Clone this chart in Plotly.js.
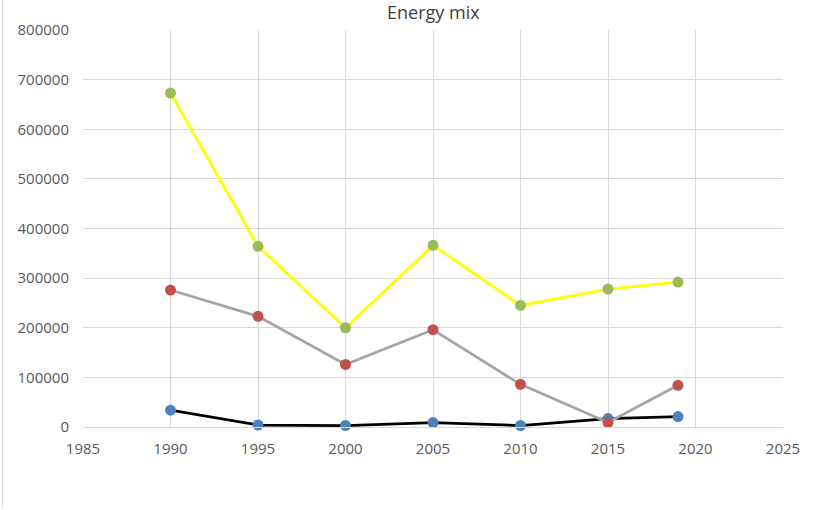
<!DOCTYPE html>
<html>
<head>
<meta charset="utf-8">
<script src="https://cdn.plot.ly/plotly-3.0.1.min.js"></script>
<style>
html,body{margin:0;padding:0;background:#fff;}
#wrap{position:absolute;left:0;top:0;width:825px;height:510px;overflow:hidden;}
#border{position:absolute;left:2px;top:-2px;width:840px;height:510px;border-left:1px solid #d9d9d9;pointer-events:none;}
#chart{position:absolute;left:0;top:0;width:825px;height:510px;}
</style>
</head>
<body>
<div id="wrap"><div id="chart"></div><div id="border"></div></div>
<script>
const years = [1990, 1995, 2000, 2005, 2010, 2015, 2019];
const seriesTop = [673000, 364000, 200000, 366000, 245000, 278000, 292000];
const seriesMid = [276000, 223000, 126000, 196000, 86000, 9000, 84000];
const seriesLow = [34000, 4000, 3000, 9000, 3000, 17000, 21000];
const xTicks = [1985, 1990, 1995, 2000, 2005, 2010, 2015, 2020, 2025];
const yTicks = [0, 100000, 200000, 300000, 400000, 500000, 600000, 700000, 800000];
const chartTitle = 'Energy mix';

function tr(y, lineColor, markerColor){
  return {x: years, y: y, type:'scatter', mode:'lines+markers',
    line:{color:lineColor, width:2.75},
    marker:{color:markerColor, size:11},
    cliponaxis:false, hoverinfo:'none'};
}
const data = [
  tr(seriesLow, '#000000', '#4f81bd'),
  tr(seriesMid, '#a5a5a5', '#c0504d'),
  tr(seriesTop, '#ffff00', '#9bbb59')
];
const fam = 'Open Sans, Liberation Sans, Arial, sans-serif';
const axisFont = {family:fam, size:15, color:'#595959'};
const layout = {
  width:825, height:510,
  margin:{l:83, r:42, t:30, b:83},
  paper_bgcolor:'#ffffff', plot_bgcolor:'#ffffff',
  showlegend:false,
  annotations:[{text:chartTitle, xref:'paper', yref:'paper', x:0.5, y:1,
    xanchor:'center', yanchor:'bottom', yshift:4, showarrow:false,
    font:{family:fam, size:18, color:'#404040'}}],
  xaxis:{range:[1985,2025], tickvals:xTicks, ticktext:xTicks.map(String),
    showgrid:true, gridcolor:'#d9d9d9', gridwidth:1,
    showline:true, linecolor:'#d9d9d9', linewidth:1, zeroline:false,
    ticks:'', tickfont:axisFont, ticklabelstandoff:8},
  yaxis:{range:[0,800000], tickvals:yTicks, ticktext:yTicks.map(String),
    showgrid:true, gridcolor:'#d9d9d9', gridwidth:1,
    showline:false, zeroline:false,
    ticks:'', tickfont:axisFont, ticklabelstandoff:13}
};
Plotly.newPlot('chart', data, layout, {displayModeBar:false, staticPlot:true});
</script>
</body>
</html>
